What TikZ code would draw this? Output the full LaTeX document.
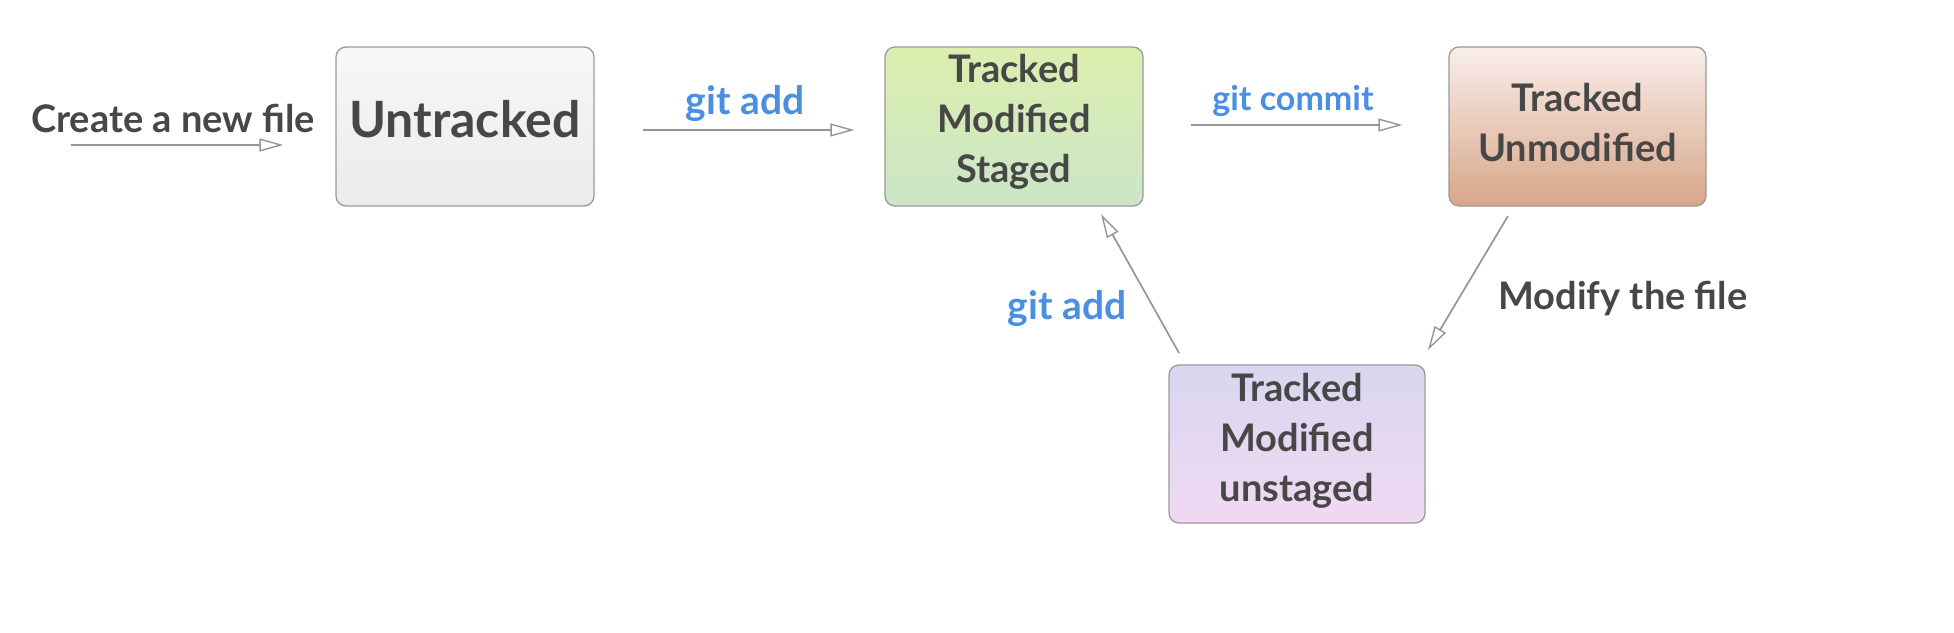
\documentclass[tikz,border=0pt]{standalone}
\usepackage{fontspec}
\setmainfont{Lato}
\usetikzlibrary{arrows.meta}
\definecolor{txt}{HTML}{474747}
\definecolor{blu}{HTML}{4A8FE2}
\definecolor{bord}{HTML}{9A9A9A}
\definecolor{arr}{HTML}{969696}
\definecolor{untop}{HTML}{F7F7F7}
\definecolor{unbot}{HTML}{ECEBEB}
\definecolor{sttop}{HTML}{DCEFAF}
\definecolor{stbot}{HTML}{CBE5C7}
\definecolor{umtop}{HTML}{F9EEEA}
\definecolor{ummid}{HTML}{F5D0B6}
\definecolor{umbot}{HTML}{D8A689}
\definecolor{ustop}{HTML}{D8D7EF}
\definecolor{usbot}{HTML}{F1D8F3}
\tikzset{
  state/.style={draw=bord, line width=1.3pt, rounded corners=10pt, shading=axis,
    minimum width=258pt, minimum height=159pt, inner sep=0pt},
  boxtext/.style={align=center, text=txt, inner sep=0pt,
    font=\fontsize{38}{50}\selectfont\bfseries},
  conn/.style={draw=arr, line width=1.7pt,
    -{Triangle[open, length=24pt, width=13pt, line width=1.4pt]}},
  lbl/.style={text=txt, font=\fontsize{38}{44}\selectfont\bfseries, inner sep=0pt},
  cmd/.style={text=blu, font=\fontsize{39}{44}\selectfont\bfseries, inner sep=0pt}
}
\begin{document}
\begin{tikzpicture}[x=1pt,y=-1pt]
\useasboundingbox[fill=white] (0,0) rectangle (1954,632);
\node[state, top color=untop, bottom color=unbot] (untracked) at (465,126.5) {};
\node[boxtext, font=\fontsize{50}{50}\selectfont\bfseries] (t1) at ([yshift=7pt]untracked.center) {Untracked};
\node[state, top color=sttop, bottom color=stbot] (staged) at (1014,126.5) {};
\node[boxtext] (t2) at ([yshift=5pt]staged.center) {Tracked\\Modified\\Staged};
\node[state, minimum width=257pt, top color=umtop, middle color=ummid, bottom color=umbot] (unmod) at (1577.5,126.5) {};
\node[boxtext] (t3) at ([yshift=4pt]unmod.center) {Tracked\\Unmodified};
\node[state, minimum width=256pt, minimum height=158pt, top color=ustop, bottom color=usbot] (unstaged) at (1297,444) {};
\node[boxtext] (t4) at ([yshift=3pt]unstaged.center) {Tracked\\Modified\\unstaged};

\coordinate (start) at (71,145);
\node[lbl] (create) at (173,118) {Create a new file};
\draw[conn, shorten >=52pt] (start) -- ([yshift=-18.5pt]untracked.west);

\draw[conn, shorten <=48pt, shorten >=30pt] ([yshift=-3.5pt]untracked.east) -- ([yshift=-3.5pt]staged.west);
\node[cmd] (add1) at (745,104) {git add};

\draw[conn, shorten <=47pt, shorten >=46pt] ([yshift=1.5pt]staged.east) -- ([yshift=1.5pt]unmod.west);
\node[cmd, font=\fontsize{34}{40}\selectfont\bfseries] (commit) at (1293,101) {git commit};

\coordinate (m1) at (1508,216);
\coordinate (m2) at (1428,350);
\draw[conn] (m1) -- (m2);
\node[lbl] (modify) at (1623,299) {Modify the file};

\coordinate (a1) at (1179,353);
\coordinate (a2) at (1101,214);
\draw[conn] (a1) -- (a2);
\node[cmd] (add2) at (1067,309) {git add};
\end{tikzpicture}
\end{document}
